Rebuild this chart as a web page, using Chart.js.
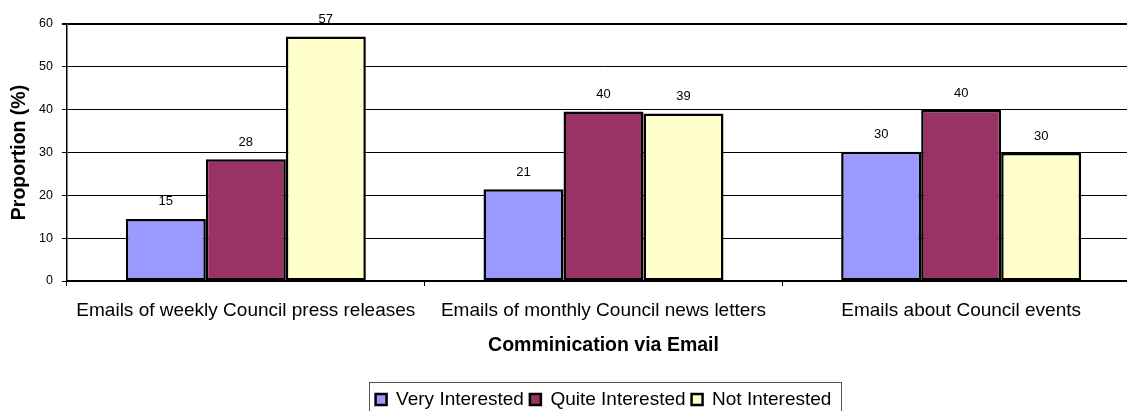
<!DOCTYPE html>
<html>
<head>
<meta charset="utf-8">
<script src="https://cdn.jsdelivr.net/npm/chart.js@4.4.1/dist/chart.umd.min.js"></script>
<style>
html, body { margin: 0; padding: 0; background: #fff; overflow: hidden; }
#wrap { width: 1140px; height: 419px; }
</style>
</head>
<body>
<div id="wrap"><canvas id="emailChart"></canvas></div>
<script>
// categories and series (proportion %)
const categories = [
  'Emails of weekly Council press releases',
  'Emails of monthly Council news letters',
  'Emails about Council events'
];
const veryInterested = [14.5, 21.4, 30.2];
const quiteInterested = [28.4, 39.6, 39.9];
const notInterested = [57.1, 39.1, 29.9];
const yTicks = [0, 10, 20, 30, 40, 50, 60];

const FONT = "'Liberation Sans', Arial, sans-serif";

// value labels over each bar
const barLabels = {
  id: 'barLabels',
  afterDatasetsDraw(chart) {
    const ctx = chart.ctx;
    ctx.save();
    ctx.font = '13px ' + FONT;
    ctx.fillStyle = '#000';
    ctx.textAlign = 'center';
    ctx.textBaseline = 'middle';
    chart.data.datasets.forEach((ds, i) => {
      chart.getDatasetMeta(i).data.forEach((bar, j) => {
        ctx.fillText(Math.round(ds.data[j]), bar.x, bar.y - 17);
      });
    });
    ctx.restore();
  }
};

// box round the legend
const legendFrame = {
  id: 'legendFrame',
  afterDraw(chart) {
    const boxes = chart.legend.legendHitBoxes;
    if (!boxes || !boxes.length) return;
    const first = boxes[0];
    const last = boxes[boxes.length - 1];
    const ctx = chart.ctx;
    ctx.save();
    ctx.strokeStyle = '#555';
    ctx.lineWidth = 1;
    const x0 = Math.round(first.left - 7) + 0.5;
    const x1 = Math.round(last.left + last.width + 10) + 0.5;
    const y0 = Math.round(first.top - 8) + 0.5;
    ctx.strokeRect(x0, y0, x1 - x0, 40);
    ctx.restore();
  }
};

new Chart(document.getElementById('emailChart'), {
  type: 'bar',
  data: {
    labels: categories,
    datasets: [
      { label: 'Very Interested', data: veryInterested, backgroundColor: '#9999FF' },
      { label: 'Quite Interested', data: quiteInterested, backgroundColor: '#993366' },
      { label: 'Not Interested', data: notInterested, backgroundColor: '#FFFFCC' }
    ].map(d => Object.assign(d, {
      borderColor: '#000',
      borderWidth: 2.5,
      borderSkipped: false,
      categoryPercentage: 0.671,
      barPercentage: 1
    }))
  },
  options: {
    responsive: true,
    maintainAspectRatio: false,
    animation: false,
    layout: { padding: { top: 24, left: 0, right: 0, bottom: 0 } },
    plugins: {
      legend: {
        position: 'bottom',
        fullSize: false,
        labels: {
          font: { family: FONT, size: 19 },
          color: '#000',
          boxWidth: 11,
          boxHeight: 11,
          padding: 6
        }
      },
      tooltip: { enabled: false },
      title: { display: false }
    },
    scales: {
      x: {
        grid: {
          display: true,
          drawOnChartArea: false,
          drawTicks: true,
          tickLength: 5,
          color: '#000',
          offset: true
        },
        border: { color: '#000', width: 2 },
        ticks: {
          font: { family: FONT, size: 19 },
          color: '#000',
          padding: 13,
          maxRotation: 0,
          autoSkip: false
        },
        title: {
          display: true,
          text: 'Comminication via Email',
          font: { family: FONT, size: 19.5, weight: 'bold' },
          color: '#000',
          padding: { top: 0, bottom: 27 }
        },
        afterFit(scale) { scale.height = 103; }
      },
      y: {
        min: 0,
        max: 60,
        afterBuildTicks(scale) { scale.ticks = yTicks.map(v => ({ value: v })); },
        grid: {
          color: '#000',
          lineWidth: c => (c.tick && c.tick.value === 60 ? 2 : 1),
          tickLength: 5
        },
        border: { color: '#000', width: 1.5 },
        ticks: {
          font: { family: FONT, size: 12.5 },
          color: '#000',
          padding: 9
        },
        title: {
          display: true,
          text: 'Proportion (%)',
          font: { family: FONT, size: 19.5, weight: 'bold' },
          color: '#000',
          padding: { top: 8, bottom: 0 }
        },
        afterFit(scale) { scale.width = 67; }
      }
    }
  },
  plugins: [barLabels, legendFrame]
});
</script>
</body>
</html>
